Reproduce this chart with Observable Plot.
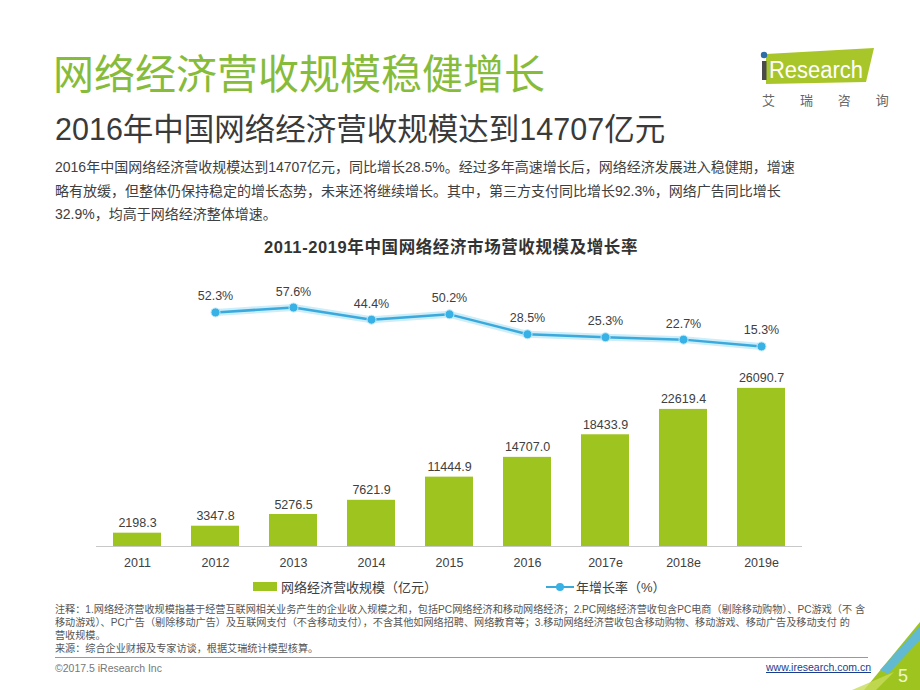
<!DOCTYPE html>
<html><head><meta charset="utf-8">
<script src="https://cdn.jsdelivr.net/npm/d3@7"></script>
<script src="https://cdn.jsdelivr.net/npm/@observablehq/plot@0.6"></script>
<style>
body{margin:0;background:#fff;}
#page{position:relative;width:920px;height:690px;overflow:hidden;background:#fff;font-family:"Liberation Sans","Noto Sans CJK SC",sans-serif;color:#404040;}
.abs{position:absolute;white-space:nowrap;}
</style></head>
<body><div id="page"></div>
<script>
const years = ["2011","2012","2013","2014","2015","2016","2017e","2018e","2019e"];
const revenue = [2198.3,3347.8,5276.5,7621.9,11444.9,14707.0,18433.9,22619.4,26090.7];
const growthYears = ["2012","2013","2014","2015","2016","2017e","2018e","2019e"];
const growth = [52.3,57.6,44.4,50.2,28.5,25.3,22.7,15.3];
const barLabel = "网络经济营收规模（亿元）";
const lineLabel = "年增长率（%）";

const barData = years.map((y,i)=>({year:y, value:revenue[i]}));
const lineData = growthYears.map((y,i)=>({year:y, value:growth[i]}));

const page = document.getElementById("page");
function add(html, style){const d=document.createElement("div");d.className="abs";d.style.cssText=style;d.innerHTML=html;page.appendChild(d);return d;}

const FONT = '"Liberation Sans","Noto Sans CJK SC",sans-serif';
const GREEN = "#9dc41f";
const BLUE = "#3aa9dc";

// Header
add("网络经济营收规模稳健增长","left:53px;top:47px;font-size:41px;color:#86bc3a;font-family:'Noto Sans CJK SC';line-height:48px;");
add("2016年中国网络经济营收规模达到14707亿元","left:55px;top:110px;font-size:30.5px;color:#3a3a3a;line-height:38px;");
add("2016年中国网络经济营收规模达到14707亿元，同比增长28.5%。经过多年高速增长后，网络经济发展进入稳健期，增速<br>略有放缓，但整体仍保持稳定的增长态势，未来还将继续增长。其中，第三方支付同比增长92.3%，网络广告同比增长<br>32.9%，均高于网络经济整体增速。","left:55px;top:156px;font-size:14px;color:#404040;line-height:23.5px;");

// Logo
add(`<svg width="140" height="60" viewBox="0 0 140 60">
<polygon points="26,14 134,8 126,42 26,44" fill="#a8c62a"/>
<circle cx="24" cy="15" r="3.2" fill="#2e6ca6"/>
<rect x="22" y="21" width="4.5" height="19" fill="#4a4a4a"/>
<text x="29" y="38" font-size="23" fill="#fff" font-family="Liberation Sans" textLength="94" lengthAdjust="spacingAndGlyphs">Research</text>
</svg>`,"left:740px;top:40px;");
add("艾 瑞 咨 询","left:762px;top:90px;font-size:13px;color:#666;letter-spacing:11px;font-family:'Noto Sans CJK SC';");

// Chart title
add("2011-2019年中国网络经济市场营收规模及增长率","left:0;width:902px;text-align:center;top:234px;font-size:16.5px;font-weight:bold;color:#333;letter-spacing:0.6px;");

const xOpts = {domain: years, paddingInner:0.38, paddingOuter:0.19};

// Growth line plot
const linePlot = Plot.plot({
  width: 900, height: 80,
  marginLeft: 96, marginRight: 98, marginTop: 0, marginBottom: 0,
  x: {...xOpts, axis: null},
  y: {domain:[0,87], axis: null},
  style: {fontFamily: FONT, overflow:"visible"},
  marks: [
    Plot.line(lineData, {x:"year", y:"value", stroke:"#bfe9f8", strokeWidth:7, strokeOpacity:0.8}),
    Plot.line(lineData, {x:"year", y:"value", stroke:BLUE, strokeWidth:2.5}),
    Plot.dot(lineData, {x:"year", y:"value", r:4.5, fill:"#38b2e6", stroke:"#bfe9f8", strokeWidth:1}),
    Plot.text(lineData, {x:"year", y:"value", text:d=>d.value.toFixed(1)+"%", dy:-16, fontSize:12.5, fill:"#404040"})
  ]
});
const lw = add("", "left:0;top:280px;");
lw.appendChild(linePlot);

// Bar plot
const barPlot = Plot.plot({
  width: 900, height: 210,
  marginLeft: 96, marginRight: 98, marginTop: 0, marginBottom: 34,
  x: {...xOpts, label:null, tickSize:0, tickPadding:12},
  y: {domain:[0,29040], axis:null},
  style: {fontFamily: FONT, fontSize:"12.5px", color:"#404040", overflow:"visible"},
  marks: [
    Plot.barY(barData, {x:"year", y:"value", fill:GREEN}),
    Plot.ruleY([0], {stroke:"#c8c8c8", strokeWidth:1}),
    Plot.text(barData, {x:"year", y:"value", text:d=>d.value.toFixed(1), dy:-10, fontSize:12.5, fill:"#404040"})
  ]
});
const bw = add("", "left:0;top:370px;");
bw.appendChild(barPlot);

// Legend
add(`<span style="display:inline-block;width:24px;height:9px;background:${GREEN};vertical-align:middle;margin-right:4px;"></span><span style="vertical-align:middle;">${barLabel}</span>`,"left:253px;top:577px;font-size:13px;color:#404040;");
add(`<svg width="28" height="12" style="vertical-align:middle;margin-right:2px;"><line x1="0" y1="6" x2="28" y2="6" stroke="${BLUE}" stroke-width="2"/><circle cx="14" cy="6" r="4" fill="#38b2e6"/></svg><span style="vertical-align:middle;">${lineLabel}</span>`,"left:546px;top:577px;font-size:13px;color:#404040;");

// Footnotes
add("注释：1.网络经济营收规模指基于经营互联网相关业务产生的企业收入规模之和，包括PC网络经济和移动网络经济；2.PC网络经济营收包含PC电商（剔除移动购物）、PC游戏（不 含<br>移动游戏）、PC广告（剔除移动广告）及互联网支付（不含移动支付），不含其他如网络招聘、网络教育等；3.移动网络经济营收包含移动购物、移动游戏、移动广告及移动支付 的<br>营收规模。<br>来源：综合企业财报及专家访谈，根据艾瑞统计模型核算。","left:55px;top:603px;font-size:10.15px;color:#555;line-height:13px;");

add("","left:55px;top:657px;width:813px;height:1px;background:#999;");
add("©2017.5 iResearch Inc","left:55px;top:662px;font-size:10.5px;color:#777;");
add("www.iresearch.com.cn","left:766px;top:661px;font-size:10.5px;color:#1a3d8f;text-decoration:underline;");

// Corner decoration
add(`<svg width="70" height="70" viewBox="0 0 70 70">
<polygon points="14,70 70,2 70,70" fill="#9dc41f"/>
<polygon points="30,50 70,6 70,20 38,54" fill="#5bb8e6" opacity="0.9"/>
<polygon points="2,70 26,70 44,52" fill="#c8dc5a" opacity="0.8"/>
<text x="48" y="62" font-size="18" fill="#eef6d0" font-family="Liberation Sans">5</text>
</svg>`,"left:850px;top:620px;");
</script></body></html>
